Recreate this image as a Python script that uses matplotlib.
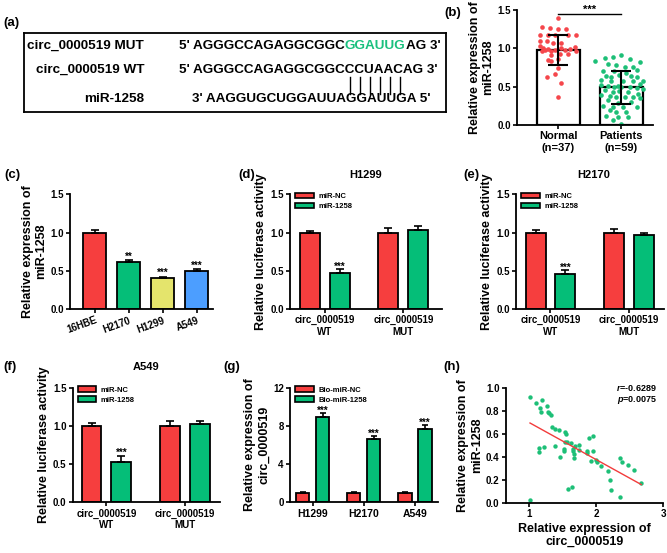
import numpy as np
import matplotlib.pyplot as plt
from matplotlib.patches import Patch

plt.rcParams['font.family'] = ['Liberation Sans', 'DejaVu Sans']
plt.rcParams['font.weight'] = 'bold'
plt.rcParams['axes.labelweight'] = 'bold'
plt.rcParams['mathtext.fontset'] = 'custom'
plt.rcParams['mathtext.it'] = 'Liberation Sans:italic:bold'
plt.rcParams['mathtext.rm'] = 'Liberation Sans:bold'

RED = '#F63E3E'
GREEN = '#05BE78'
YELLOW = '#E4E46C'
BLUE = '#4C9EFF'
PRED = '#F5464B'
PGREEN = '#1DBF77'

# (b) scatter values and beeswarm offsets
normal_vals = [1.39, 1.28, 1.26, 1.25, 1.25, 1.18, 1.18, 1.17, 1.17, 1.18, 1.10, 1.10, 1.07,
               1.07, 1.03, 1.00, 0.99, 0.98, 1.00, 0.98, 0.99, 1.02, 0.98, 0.96, 0.96, 0.96,
               0.91, 0.92, 0.93, 0.86, 0.85, 0.83, 0.74, 0.67, 0.62, 0.55, 0.37]
normal_off = [0, -0.26, -0.13, 0, 0.13, -0.29, -0.16, -0.05, 0.16, 0.29, -0.29, -0.18, 0.05,
              -0.08, -0.29, -0.24, -0.16, -0.05, 0.05, 0.11, 0.18, 0.26, -0.21, -0.11, 0.29, -0.26,
              -0.11, 0.03, 0.16, 0, -0.16, -0.11, 0, -0.05, -0.18, 0.05, 0]
patient_vals = [0.91, 0.89, 0.88, 0.86, 0.83, 0.82, 0.80, 0.78, 0.76, 0.76, 0.70, 0.70, 0.68,
                0.64, 0.65, 0.64, 0.62, 0.62, 0.59, 0.57, 0.57, 0.57, 0.53, 0.52, 0.51, 0.49,
                0.49, 0.49, 0.48, 0.46, 0.43, 0.45, 0.43, 0.41, 0.39, 0.38, 0.37, 0.37, 0.37,
                0.35, 0.33, 0.29, 0.30, 0.25, 0.24, 0.24, 0.23, 0.19, 0.17, 0.17, 0.12, 0.11,
                0.10, 0.07, 0.01, 0.47, 0.58, 0.72, 0.51]
patient_off = [0, -0.13, -0.26, 0.13, -0.42, 0.29, -0.21, -0.08, 0.05, 0.18, -0.29, -0.11, 0.08,
               -0.24, -0.03, 0.16, -0.16, 0.24, -0.32, -0.16, 0.03, 0.18, 0.29, -0.32, -0.21, -0.11,
               0, 0.13, 0.24, -0.26, -0.13, -0.03, 0.11, 0.26, -0.32, -0.18, -0.08, 0.05, 0.18,
               0.29, -0.21, -0.05, 0.16, -0.29, -0.13, 0.03, 0.24, -0.18, -0.08, 0.08, -0.24, -0.05,
               0.11, -0.13, 0, 0.34, 0.34, 0.24, -0.05]
b_groups = ['Normal\n(n=37)', 'Patients\n(n=59)']
b_mean = [0.98, 0.49]
b_sd = [0.20, 0.21]

# (c)
c_cells = ['16HBE', 'H2170', 'H1299', 'A549']
c_vals = [1.0, 0.61, 0.41, 0.497]
c_err = [0.03, 0.03, 0.012, 0.025]
c_stars = ['', '**', '***', '***']

# (d)(e)(f) luciferase
luc_groups = ['circ_0000519\nWT', 'circ_0000519\nMUT']
d_nc, d_nc_err = [1.0, 1.0], [0.02, 0.064]
d_mir, d_mir_err = [0.475, 1.034], [0.045, 0.056]
e_nc, e_nc_err = [1.0, 1.0], [0.03, 0.04]
e_mir, e_mir_err = [0.458, 0.968], [0.05, 0.03]
f_nc, f_nc_err = [1.0, 1.0], [0.044, 0.064]
f_mir, f_mir_err = [0.532, 1.025], [0.078, 0.04]

# (g)
g_cells = ['H1299', 'H2170', 'A549']
g_nc, g_nc_err = [1.0, 1.0, 1.0], [0.05, 0.05, 0.05]
g_mir, g_mir_err = [8.96, 6.63, 7.67], [0.35, 0.31, 0.42]

# (h)
h_x = [1.01, 1.095, 1.16, 1.185, 1.17, 1.26, 1.275, 1.295, 1.32, 1.335, 1.385, 1.45, 1.535,
       1.55, 1.535, 1.57, 1.62, 1.15, 1.225, 1.14, 1.39, 1.465, 1.52, 1.525, 1.685, 1.66,
       1.65, 1.75, 1.67, 1.745, 1.86, 1.87, 1.92, 1.895, 1.955, 1.945, 2.0, 2.01, 2.075,
       2.17, 2.2, 2.22, 2.35, 2.36, 2.39, 2.47, 2.57, 2.675, 1.01, 1.585, 1.635, 1.675]
h_y = [0.92, 0.864, 0.826, 0.893, 0.791, 0.843, 0.791, 0.777, 0.762, 0.661, 0.641, 0.632, 0.617,
       0.594, 0.53, 0.525, 0.516, 0.478, 0.481, 0.438, 0.49, 0.397, 0.47, 0.452, 0.496, 0.467,
       0.452, 0.499, 0.423, 0.458, 0.446, 0.435, 0.365, 0.559, 0.58, 0.452, 0.371, 0.354, 0.322,
       0.278, 0.197, 0.11, 0.052, 0.386, 0.357, 0.328, 0.284, 0.174, 0.023, 0.122, 0.133, 0.385]

W, H = 667, 553
fig = plt.figure(figsize=(W / 100, H / 100), dpi=100)


def px(l, t, r, b):
    return [l / W, 1 - b / H, (r - l) / W, (b - t) / H]


def style(ax):
    for s in ['top', 'right']:
        ax.spines[s].set_visible(False)
    for s in ['left', 'bottom']:
        ax.spines[s].set_linewidth(1.3)
    ax.tick_params(direction='out', length=3, width=1.2, labelsize=7, pad=1.5)


def grouped(ax, nc, nce, mir, mire, labels, leg, w=0.255, off=0.19, cap=3):
    x = np.arange(len(nc))
    ax.bar(x - off, nc, w, color=RED, edgecolor='k', linewidth=1.3)
    ax.bar(x + off, mir, w, color=GREEN, edgecolor='k', linewidth=1.3)
    ax.errorbar(x - off, nc, yerr=[np.zeros(len(nc)), nce], fmt='none', ecolor='k',
                elinewidth=1.2, capsize=cap, capthick=1.2)
    ax.errorbar(x + off, mir, yerr=[np.zeros(len(mir)), mire], fmt='none', ecolor='k',
                elinewidth=1.2, capsize=cap, capthick=1.2)
    ax.set_xticks(x)
    ax.set_xticklabels(labels)
    style(ax)
    h = [Patch(facecolor=RED, edgecolor='k', linewidth=1.2),
         Patch(facecolor=GREEN, edgecolor='k', linewidth=1.2)]
    ax.legend(h, leg, loc='upper left', bbox_to_anchor=(0.0, 1.06), frameon=False,
              fontsize=5.5, handlelength=2.4, handleheight=0.75, labelspacing=0.35,
              handletextpad=0.6, borderaxespad=0.3)
    return x


# ---------- (a) ----------
axa = fig.add_axes(px(24, 33, 446, 112))
axa.set_xlim(24, 446)
axa.set_ylim(112, 33)
axa.set_xticks([])
axa.set_yticks([])
for s in axa.spines.values():
    s.set_linewidth(1.3)
fs = 9.7
axa.text(144, 46, 'circ_0000519 MUT', ha='right', va='center', fontsize=fs)
axa.text(144, 70, 'circ_0000519 WT', ha='right', va='center', fontsize=fs)
axa.text(144, 99, 'miR-1258', ha='right', va='center', fontsize=fs)
t1 = axa.text(179, 46, "5' AGGGCCAGAGGCGGC", ha='left', va='center', fontsize=fs)
t2 = axa.annotate('GGAUUG', xy=(1, 0), xycoords=t1, ha='left', va='bottom',
                  fontsize=fs, color='#19C07E')
axa.annotate("AG 3'", xy=(1, 0), xycoords=t2, ha='left', va='bottom', fontsize=fs)
axa.text(179, 70, "5' AGGGCCAGAGGCGGCCCUAACAG 3'", ha='left', va='center', fontsize=fs)
axa.text(192, 99, "3' AAGGUGCUGGAUUAGGAUUGA 5'", ha='left', va='center', fontsize=fs)

# ---------- (b) ----------
axb = fig.add_axes(px(517, 10, 653, 125))
axb.bar([0, 1], b_mean, 0.68, color='white', edgecolor='k', linewidth=1.6, zorder=1)
axb.scatter(np.array(normal_off), normal_vals, s=11, color=PRED, zorder=2, linewidths=0)
axb.scatter(1 + np.array(patient_off), patient_vals, s=11, color=PGREEN, zorder=2, linewidths=0)
axb.errorbar([0, 1], b_mean, yerr=b_sd, fmt='none', ecolor='k', elinewidth=1.5,
             capsize=7.5, capthick=1.5, zorder=3)
axb.set_xlim(-0.65, 1.5)
axb.set_ylim(0, 1.5)
axb.set_yticks([0, 0.5, 1.0, 1.5])
axb.set_yticklabels(['0.0', '0.5', '1.0', '1.5'])
axb.set_xticks([0, 1])
axb.set_xticklabels(b_groups)
style(axb)
axb.tick_params(axis='x', labelsize=8)
axb.plot([0, 1], [1.45, 1.45], color='k', lw=1, clip_on=False)
axb.text(0.5, 1.44, '***', ha='center', va='bottom', fontsize=8)
axb.set_ylabel('Relative expression of\nmiR-1258', fontsize=9, labelpad=2)

# ---------- (c) ----------
axc = fig.add_axes(px(70, 194.3, 213, 309))
xc = np.arange(len(c_cells))
axc.bar(xc, c_vals, 0.67, color=[RED, GREEN, YELLOW, BLUE], edgecolor='k', linewidth=1.3)
axc.errorbar(xc, c_vals, yerr=[np.zeros(4), c_err], fmt='none', ecolor='k', elinewidth=1.2,
             capsize=3, capthick=1.2)
for xi, v, e, s in zip(xc, c_vals, c_err, c_stars):
    axc.text(xi, v + e - 0.02, s, ha='center', va='bottom', fontsize=7)
axc.set_xlim(-0.73, 3.48)
axc.set_ylim(0, 1.5)
axc.set_yticks([0, 0.5, 1.0, 1.5])
axc.set_yticklabels(['0.0', '0.5', '1.0', '1.5'])
axc.set_xticks(xc)
axc.set_xticklabels(c_cells, rotation=20, ha='right', rotation_mode='anchor')
style(axc)
axc.set_ylabel('Relative expression of\nmiR-1258', fontsize=9, labelpad=2)

# ---------- (d) (e) (f) ----------
lucs = [(px(290, 194.3, 441.7, 309), d_nc, d_nc_err, d_mir, d_mir_err, (-0.447, 1.49)),
        (px(516, 194.3, 664, 309), e_nc, e_nc_err, e_mir, e_mir_err, (-0.44, 1.45)),
        (px(72.7, 387.7, 220, 502.3), f_nc, f_nc_err, f_mir, f_mir_err, (-0.43, 1.45))]
for pos, nc, nce, mir, mire, xl in lucs:
    ax = fig.add_axes(pos)
    x = grouped(ax, nc, nce, mir, mire, luc_groups, ['miR-NC', 'miR-1258'])
    ax.text(x[0] + 0.19, mir[0] + mire[0] - 0.03, '***', ha='center', va='bottom', fontsize=7)
    ax.set_xlim(*xl)
    ax.set_ylim(0, 1.5)
    ax.set_yticks([0, 0.5, 1.0, 1.5])
    ax.set_yticklabels(['0.0', '0.5', '1.0', '1.5'])
    ax.set_ylabel('Relative luciferase activity', fontsize=9, labelpad=2)

# ---------- (g) ----------
axg = fig.add_axes(px(290, 387.7, 438, 502.3))
xg = grouped(axg, g_nc, g_nc_err, g_mir, g_mir_err, g_cells, ['Bio-miR-NC', 'Bio-miR-1258'],
             w=0.26, off=0.195, cap=2.5)
for xi, v, e in zip(xg, g_mir, g_mir_err):
    axg.text(xi + 0.195, v + e - 0.25, '***', ha='center', va='bottom', fontsize=7)
axg.set_xlim(-0.44, 2.45)
axg.set_ylim(0, 12)
axg.set_yticks([0, 4, 8, 12])
axg.tick_params(axis='x', labelsize=7.5)
axg.set_ylabel('Relative expression of\ncirc_0000519', fontsize=9, labelpad=2)

# ---------- (h) ----------
axh = fig.add_axes(px(505.7, 387.7, 663, 502.7))
axh.scatter(h_x, h_y, s=10, color=PGREEN, linewidths=0, zorder=2)
k, b0 = np.polyfit(h_x, h_y, 1)
xx = np.array([min(h_x), max(h_x)])
axh.plot(xx, k * xx + b0, color='#F23B3B', lw=1, zorder=3)
axh.set_xlim(0.646, 3)
axh.set_ylim(0, 1.0)
axh.set_xticks([1, 2, 3])
axh.set_yticks(np.arange(0, 1.01, 0.2))
axh.set_yticklabels(['0.0', '0.2', '0.4', '0.6', '0.8', '1.0'])
style(axh)
axh.set_ylabel('Relative expression of\nmiR-1258', fontsize=9, labelpad=2)
axh.set_xlabel('Relative expression of\ncirc_0000519', fontsize=9, labelpad=3, linespacing=1.05)
axh.text(0.70, 1.0, '$r$=-0.6289', transform=axh.transAxes, ha='left', va='center', fontsize=6.5)
axh.text(0.71, 0.89, '$p$=0.0075', transform=axh.transAxes, ha='left', va='center', fontsize=6.5)

# titles and panel labels
for s, x, y in [('H1299', 366, 175), ('H2170', 594, 175), ('A549', 146, 367)]:
    fig.text(x / W, 1 - y / H, s, ha='center', va='center', fontsize=8)
for s, x, y in [('(a)', 3, 23), ('(b)', 444, 13), ('(c)', 4, 175), ('(d)', 238, 175),
                ('(e)', 463, 175), ('(f)', 3, 367), ('(g)', 223, 367), ('(h)', 443, 367)]:
    fig.text(x / W, 1 - y / H, s, ha='left', va='center', fontsize=9.5)

# base-pairing lines under the mutated site
fig.canvas.draw()
bb = t2.get_window_extent().transformed(axa.transData.inverted())
x0, x1 = min(bb.x0, bb.x1), max(bb.x0, bb.x1)
for i in range(6):
    xi = x0 + (i + 0.5) * (x1 - x0) / 6
    axa.plot([xi, xi], [77, 94], color='k', lw=1)

fig.savefig('out.png', dpi=100)
